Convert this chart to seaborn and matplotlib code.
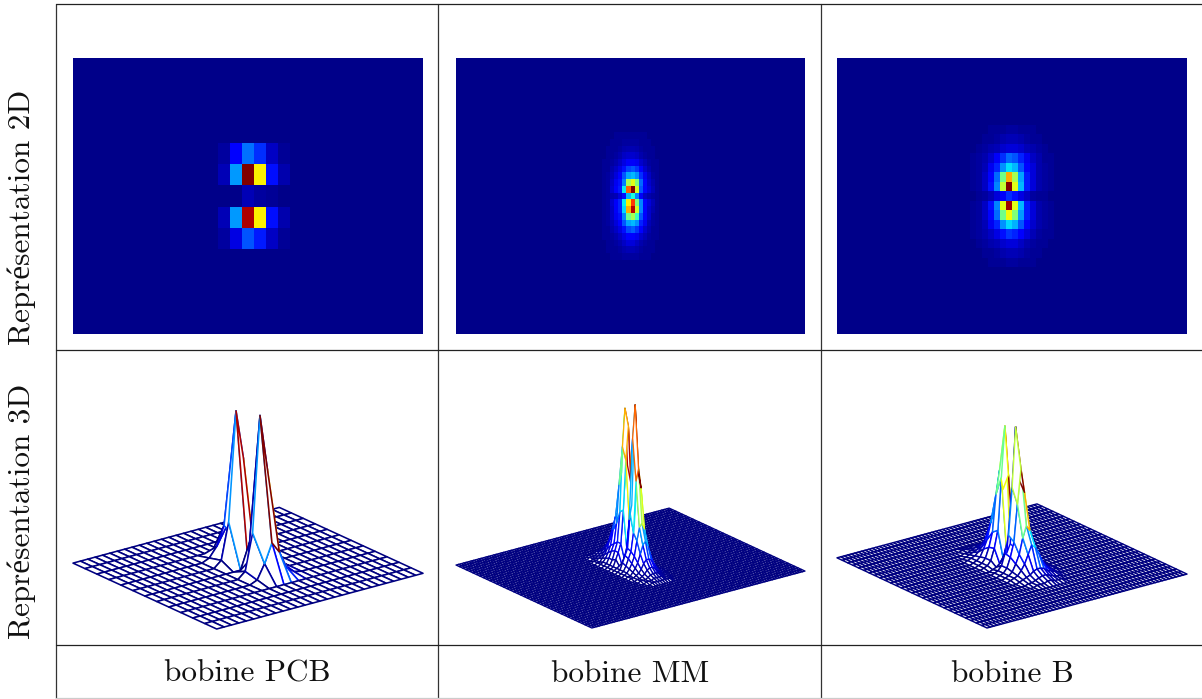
import numpy as np
import matplotlib
matplotlib.use("Agg")
import matplotlib.pyplot as plt
import seaborn as sns
from matplotlib.lines import Line2D
from mpl_toolkits.mplot3d import proj3d

# Coil names and row titles
coil_names = ["bobine PCB", "bobine MM", "bobine B"]
row_titles = ["Représentation 2D", "Représentation 3D"]

# Grid sizes (rows, columns); everything outside the centre blocks reads as 0
pcb_shape = (13, 29)
mm_shape = (41, 86)
b_shape = (29, 58)

# Centre blocks
pcb_block = [
    [.02, .11, .23, .16, .05, .01],
    [.04, .27, 1.0, .65, .13, .03],
    [.00, .00, .04, .02, .01, .00],
    [.04, .27, .96, .65, .13, .03],
    [.02, .08, .20, .14, .05, .01],
]
mm_block = [
    [.00, .00, .00, .01, .01, .01, .01, .01, .01, .01, .01, .00, .00, .00],
    [.00, .00, .01, .01, .01, .02, .02, .02, .02, .01, .01, .01, .00, .00],
    [.00, .01, .01, .01, .02, .03, .035, .035, .03, .02, .01, .01, .01, .00],
    [.00, .01, .01, .02, .03, .05, .06, .06, .05, .03, .02, .01, .01, .00],
    [.01, .01, .02, .03, .05, .08, .10, .10, .09, .06, .04, .02, .01, .01],
    [.01, .01, .03, .05, .08, .13, .18, .20, .17, .11, .06, .03, .01, .01],
    [.01, .02, .04, .07, .11, .20, .28, .30, .26, .16, .09, .05, .02, .01],
    [.01, .02, .05, .09, .13, .24, .55, .62, .50, .22, .12, .06, .03, .01],
    [.01, .02, .06, .10, .14, .35, .80, 1.0, .60, .20, .12, .07, .04, .01],
    [.01, .02, .03, .04, .07, .13, .30, .38, .25, .10, .05, .03, .02, .01],
    [.01, .02, .06, .10, .15, .35, .65, .85, .50, .25, .12, .07, .04, .01],
    [.01, .02, .05, .10, .15, .33, .72, .95, .60, .25, .12, .06, .03, .01],
    [.01, .02, .05, .09, .13, .25, .48, .55, .42, .20, .11, .06, .02, .01],
    [.01, .02, .04, .07, .11, .20, .28, .30, .26, .15, .09, .04, .02, .01],
    [.01, .01, .03, .05, .08, .13, .19, .21, .17, .11, .06, .03, .01, .01],
    [.01, .01, .02, .03, .05, .08, .11, .11, .09, .06, .04, .02, .01, .01],
    [.00, .01, .01, .02, .03, .05, .07, .07, .05, .03, .02, .01, .01, .00],
    [.00, .01, .01, .01, .02, .03, .04, .04, .03, .02, .01, .01, .01, .00],
    [.00, .00, .01, .01, .01, .02, .02, .02, .02, .01, .01, .01, .00, .00],
]
b_block = [
    [.00, .00, .00, .01, .01, .01, .02, .02, .01, .01, .01, .00, .00, .00],
    [.00, .00, .01, .01, .02, .03, .04, .04, .03, .02, .01, .01, .00, .00],
    [.00, .01, .02, .03, .04, .06, .07, .07, .06, .04, .03, .02, .01, .00],
    [.01, .02, .03, .06, .10, .16, .22, .20, .15, .09, .05, .03, .01, .01],
    [.01, .02, .04, .09, .15, .26, .34, .30, .20, .12, .07, .03, .02, .01],
    [.01, .02, .05, .12, .22, .48, .72, .55, .28, .14, .07, .03, .02, .01],
    [.01, .02, .05, .13, .25, .58, 1.0, .62, .30, .14, .07, .03, .02, .01],
    [.00, .01, .02, .04, .07, .10, .16, .13, .08, .05, .02, .01, .01, .00],
    [.01, .02, .05, .13, .25, .62, .97, .62, .30, .14, .07, .03, .02, .01],
    [.01, .02, .05, .12, .22, .48, .64, .50, .27, .14, .07, .03, .02, .01],
    [.01, .02, .04, .09, .15, .26, .33, .29, .20, .12, .06, .03, .02, .01],
    [.01, .02, .03, .05, .08, .13, .17, .15, .11, .07, .04, .02, .01, .01],
    [.00, .01, .02, .03, .04, .06, .07, .07, .05, .03, .02, .01, .01, .00],
    [.00, .00, .01, .01, .02, .03, .04, .04, .03, .02, .01, .01, .00, .00],
    [.00, .00, .00, .01, .01, .01, .02, .02, .01, .01, .01, .00, .00, .00],
]

W, H = 1202, 699

sns.set_theme(style="white")
plt.rcParams["font.family"] = ["cmr10", "Liberation Serif"]
plt.rcParams["axes.formatter.use_mathtext"] = True

fig = plt.figure(figsize=(W / 100, H / 100), dpi=100, facecolor="white")


def make_grid(shape, block, top, left):
    grid = np.zeros(shape)
    block = np.array(block)
    grid[top:top + block.shape[0], left:left + block.shape[1]] = block
    return grid


def px_axes(x0, y0, x1, y1, **kw):
    # pixel box measured from the top left of the picture
    return fig.add_axes([x0 / W, 1 - y1 / H, (x1 - x0) / W, (y1 - y0) / H], **kw)


def draw_map(grid, box):
    ax = px_axes(*box)
    sns.heatmap(grid, ax=ax, cmap="jet", vmin=-0.01, vmax=1, cbar=False,
                xticklabels=False, yticklabels=False, rasterized=True)
    ax.set_xlabel("")
    ax.set_ylabel("")


def draw_mesh(grid, elev, azim, lengths, corners, lw):
    ax = fig.add_axes([0, 0, 0.5, 0.5], projection="3d", proj_type="ortho")
    ax.set_axis_off()
    ax.patch.set_alpha(0)
    ax.view_init(elev=elev, azim=azim)
    ax.set_box_aspect(lengths)

    rows, cols = grid.shape
    x, y = np.meshgrid(np.arange(cols), np.arange(rows))
    # the face in front of a peak takes the colour of the vertex next to the peak
    edges = plt.get_cmap("jet")(grid[1:, :-1])
    surf = ax.plot_surface(x, y, grid, rstride=1, cstride=1, facecolors=edges,
                           shade=False, linewidth=lw, antialiased=True)
    surf.set_facecolor("white")
    surf.set_edgecolor(edges.reshape(-1, 4))
    ax.set_xlim(0, cols - 1)
    ax.set_ylim(0, rows - 1)
    ax.set_zlim(0, 1)

    # Scale and move the square 3D axes so the floor lands on the wanted pixels
    left, right, bottom = corners
    cx = np.array([0, cols - 1, 0, cols - 1], dtype=float)
    cy = np.array([0, 0, rows - 1, rows - 1], dtype=float)
    px, py, _ = proj3d.proj_transform(cx, cy, np.zeros(4), ax.get_proj())
    uv = ax.transLimits.transform(np.c_[px, py])
    side = (right - left) / (uv[:, 0].max() - uv[:, 0].min())
    x0 = left - side * uv[:, 0].min()
    y0 = (H - bottom) - side * uv[:, 1].min()
    ax.set_position([x0 / W, y0 / H, side / W, side / H])


# 2D maps
draw_map(make_grid(pcb_shape, pcb_block, 4, 12), (73, 58, 423, 334))
draw_map(make_grid(mm_shape, mm_block, 11, 36), (456, 58, 805, 334))
draw_map(make_grid(b_shape, b_block, 7, 22), (837, 58, 1187, 334))

# 3D meshes
draw_mesh(make_grid(pcb_shape, pcb_block, 4, 12), 20.6, -127.5, (260, 236, 169),
          (73, 423, 629), 1.15)
draw_mesh(make_grid(mm_shape, mm_block, 11, 36), 20.6, -127.2, (268, 225, 176),
          (456, 805, 628), 0.95)
draw_mesh(make_grid(b_shape, b_block, 7, 22), 20.8, -127.2, (251, 248, 152),
          (837, 1187, 628), 1.05)

# Table lines
for x in (56, 438, 821):
    fig.add_artist(Line2D([x / W, x / W], [0, 1 - 4 / H], color="#333333", lw=0.9))
for y in (4, 350, 645):
    fig.add_artist(Line2D([56 / W, 1], [1 - y / H, 1 - y / H], color="#222222", lw=0.9))
fig.add_artist(Line2D([56 / W, 1], [1 - 698 / H, 1 - 698 / H], color="#cccccc", lw=0.9))

# Text
for name, x in zip(coil_names, (247, 630, 1012)):
    fig.text(x / W, 1 - 674 / H, name, ha="center", va="center", fontsize=22.5, color="#111111")
for title, y in zip(row_titles, (217, 511)):
    fig.text(22 / W, 1 - y / H, title, ha="center", va="center", rotation=90,
             fontsize=22.5, color="#111111")

fig.savefig("out.png", dpi=100)
